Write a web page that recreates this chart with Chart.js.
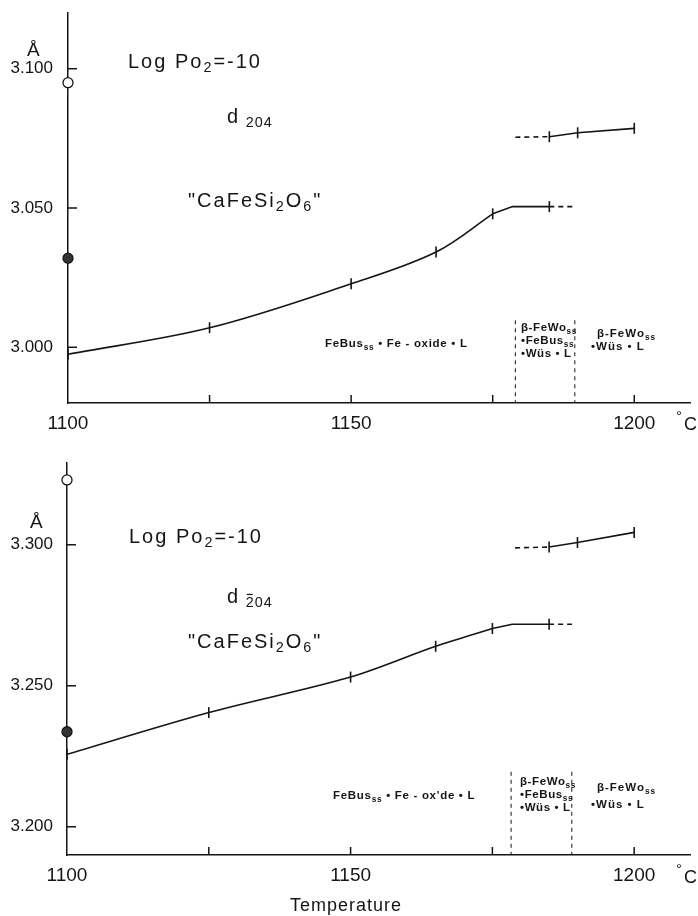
<!DOCTYPE html>
<html>
<head>
<meta charset="utf-8">
<script src="https://cdn.jsdelivr.net/npm/chart.js@4.4.1/dist/chart.umd.min.js"></script>
<style>
  body { margin: 0; background: #fff; width: 698px; height: 916px; position: relative; overflow: hidden; }
  canvas { position: absolute; left: 0; }
</style>
</head>
<body>
<canvas id="top" width="698" height="440" style="top:0"></canvas>
<canvas id="bottom" width="698" height="476" style="top:440px"></canvas>
<script>
// temperatures (°C)
const xTicks = [1100, 1125, 1150, 1175, 1200];
const xTickLabels = [1100, 1150, 1200];
const tCurve = [1100, 1125, 1150, 1165, 1175];
const tFlat = [1175, 1178.5, 1185];
const tFlatDash = [1185, 1189.5];
const tHighDash = [1179, 1185];
const tHigh = [1185, 1190, 1200];

// d204 spacing (Å)
const d204Ticks = [3.000, 3.050, 3.100];
const d204Curve = [2.9975, 3.0070, 3.0228, 3.0342, 3.0479];
const d204Flat = [3.0479, 3.0505, 3.0505];
const d204FlatDash = [3.0505, 3.0505];
const d204HighDash = [3.0754, 3.0756];
const d204High = [3.0756, 3.0770, 3.0786];
const d204Open = 3.095;
const d204Filled = 3.032;
const d204Bounds = [1179, 1189.5];
const d204BoundTop = 3.0097;

// d-204 spacing (Å)
const dm204Ticks = [3.200, 3.250, 3.300];
const dm204Curve = [3.2257, 3.2405, 3.2531, 3.2640, 3.2703];
const dm204Flat = [3.2703, 3.2718, 3.2718];
const dm204FlatDash = [3.2718, 3.2718];
const dm204HighDash = [3.2989, 3.2992];
const dm204High = [3.2992, 3.3008, 3.3044];
const dm204Open = 3.323;
const dm204Filled = 3.2337;
const dm204Bounds = [1178.3, 1189];
const dm204BoundTop = 3.2195;

const FONT = '"Liberation Sans", Arial, sans-serif';
const INK = '#151515';

const pts = (xs, ys) => xs.map((x, i) => ({ x, y: ys[i] }));

function line(data, extra) {
  return Object.assign({
    data, borderColor: INK, borderWidth: 1.6, fill: false, tension: 0,
    pointStyle: 'line', rotation: 90, pointRadius: 0, pointBorderColor: INK,
    pointBorderWidth: 1.6
  }, extra);
}

function datasets(s) {
  const out = [
    line(pts(tCurve, s.curve), { tension: s.tension, pointRadius: 5.5 }),
    line(pts(tFlat, s.flat), { pointRadius: [0, 0, 5.5] }),
    line(pts(tFlatDash, s.flatDash), { borderDash: [5, 4] }),
    line(pts(tHighDash, s.highDash), { borderDash: [5, 4] }),
    line(pts(tHigh, s.high), { pointRadius: 5.5 }),
    line([{ x: 1100, y: s.open }], { pointStyle: 'circle', pointRadius: 5, pointBackgroundColor: '#fff', pointBorderWidth: 1.3, clip: false }),
    line([{ x: 1100, y: s.filled }], { pointStyle: 'circle', pointRadius: 5, pointBackgroundColor: '#333', pointBorderWidth: 1.3, clip: false })
  ];
  s.bounds.forEach(b => {
    out.push(line(pts([b, b], [s.boundTop, s.yMin]), { borderWidth: 1, borderDash: [4, 4] }));
  });
  return out;
}

// text with sub/bar pieces, left aligned on a baseline
function rich(ctx, x, y, parts, size, spacing) {
  if ('letterSpacing' in ctx) ctx.letterSpacing = spacing + 'px';
  let cx = x;
  parts.forEach(p => {
    const sub = p.sub;
    const fs = sub ? size * 0.72 : size;
    ctx.font = (p.bold ? '600 ' : '') + fs + 'px ' + FONT;
    const dy = sub ? size * 0.22 : 0;
    ctx.fillText(p.t, cx, y + dy);
    const w = ctx.measureText(p.t).width;
    if (p.bar) {
      ctx.beginPath();
      ctx.lineWidth = 1.2;
      ctx.moveTo(cx + 1, y + dy - fs * 0.9);
      ctx.lineTo(cx + w - spacing - 1, y + dy - fs * 0.9);
      ctx.stroke();
    }
    cx += w;
  });
  if ('letterSpacing' in ctx) ctx.letterSpacing = '0px';
}

const decor = {
  id: 'decor',
  afterDraw(chart) {
    const { ctx, scales: { x, y } } = chart;
    const s = chart.options.plugins.decor;
    ctx.save();
    ctx.strokeStyle = INK;
    ctx.fillStyle = INK;
    ctx.lineWidth = 1.5;
    // inward tick marks
    xTicks.slice(1).forEach(v => {
      const px = x.getPixelForValue(v);
      ctx.beginPath(); ctx.moveTo(px, y.bottom); ctx.lineTo(px, y.bottom - 8); ctx.stroke();
    });
    s.yTicks.forEach(v => {
      const py = y.getPixelForValue(v);
      ctx.beginPath(); ctx.moveTo(x.left, py); ctx.lineTo(x.left + 9, py); ctx.stroke();
    });
    ctx.textBaseline = 'alphabetic';
    ctx.textAlign = 'left';
    // unit labels
    rich(ctx, s.angstrom[0], s.angstrom[1], [{ t: 'Å' }], 19, 0);
    const cy = s.degC;
    rich(ctx, 676, cy - 9, [{ t: '°' }], 15, 0);
    rich(ctx, 684, cy, [{ t: 'C' }], 18, 0);
    s.texts.forEach(t => rich(ctx, t.x, t.y, t.parts, t.size, t.sp));
    ctx.restore();
  }
};

function makeChart(id, s) {
  return new Chart(document.getElementById(id), {
    type: 'line',
    data: { datasets: datasets(s) },
    plugins: [decor],
    options: {
      responsive: false,
      animation: false,
      devicePixelRatio: 1,
      layout: { padding: { top: s.top, right: 1, left: 0, bottom: 0 } },
      plugins: { legend: { display: false }, tooltip: { enabled: false }, decor: s },
      scales: {
        x: {
          type: 'linear', min: 1100, max: 1210,
          afterBuildTicks: sc => { sc.ticks = xTicks.map(v => ({ value: v })); },
          afterFit: sc => { sc.height = s.xAxisH; sc.paddingLeft = 0; sc.paddingRight = 0; },
          grid: { display: false, drawTicks: false },
          border: { display: true, color: INK, width: 1.5 },
          ticks: {
            autoSkip: false, maxRotation: 0, padding: 9, color: INK,
            font: { family: FONT, size: 19 },
            callback: v => xTickLabels.includes(v) ? String(v) : ''
          }
        },
        y: {
          type: 'linear', min: s.yMin, max: s.yMax,
          afterBuildTicks: sc => { sc.ticks = s.yTicks.map(v => ({ value: v })); },
          afterFit: sc => { sc.width = s.yAxisW; sc.paddingTop = 0; sc.paddingBottom = 0; },
          grid: { display: false, drawTicks: false },
          border: { display: true, color: INK, width: 1.5 },
          ticks: {
            padding: s.yPad, color: INK,
            font: { family: FONT, size: 17 },
            callback: v => v.toFixed(3)
          }
        }
      }
    }
  });
}

const phaseText = (base, dx, dy, ox) => [
  { x: base[0], y: base[1], size: 11.5, sp: 0.7, parts: [{ t: 'FeBus', bold: 1 }, { t: 'ss', sub: 1, bold: 1 }, { t: ' • Fe - ' + ox + ' • L', bold: 1 }] },
  { x: dx, y: dy, size: 11.5, sp: 0.6, parts: [{ t: 'β-FeWo', bold: 1 }, { t: 'ss', sub: 1, bold: 1 }] },
  { x: dx, y: dy + 13, size: 11.5, sp: 0.6, parts: [{ t: '•FeBus', bold: 1 }, { t: 'ss', sub: 1, bold: 1 }] },
  { x: dx, y: dy + 26, size: 11.5, sp: 0.6, parts: [{ t: '•Wüs • L', bold: 1 }] }
];

const topTexts = [
  { x: 128, y: 68, size: 20, sp: 2, parts: [{ t: 'Log Po' }, { t: '2', sub: 1 }, { t: '=-10' }] },
  { x: 227, y: 123, size: 20, sp: 1, parts: [{ t: 'd ' }, { t: '204', sub: 1 }] },
  { x: 188, y: 207, size: 20, sp: 2, parts: [{ t: '"CaFeSi' }, { t: '2', sub: 1 }, { t: 'O' }, { t: '6', sub: 1 }, { t: '"' }] },
  ...phaseText([325, 347], 521, 331, 'oxide'),
  { x: 597, y: 337, size: 11.5, sp: 1, parts: [{ t: 'β-FeWo', bold: 1 }, { t: 'ss', sub: 1, bold: 1 }] },
  { x: 591, y: 350, size: 11.5, sp: 1, parts: [{ t: '•Wüs • L', bold: 1 }] }
];

const B = 440;
const bottomTexts = [
  { x: 129, y: 543 - B, size: 20, sp: 2, parts: [{ t: 'Log Po' }, { t: '2', sub: 1 }, { t: '=-10' }] },
  { x: 227, y: 603 - B, size: 20, sp: 1, parts: [{ t: 'd ' }, { t: '2', sub: 1, bar: 1 }, { t: '04', sub: 1 }] },
  { x: 188, y: 648 - B, size: 20, sp: 2, parts: [{ t: '"CaFeSi' }, { t: '2', sub: 1 }, { t: 'O' }, { t: '6', sub: 1 }, { t: '"' }] },
  ...phaseText([333, 799 - B], 520, 785 - B, 'ox\'de'),
  { x: 597, y: 791 - B, size: 11.5, sp: 1, parts: [{ t: 'β-FeWo', bold: 1 }, { t: 'ss', sub: 1, bold: 1 }] },
  { x: 591, y: 808 - B, size: 11.5, sp: 1, parts: [{ t: '•Wüs • L', bold: 1 }] },
  { x: 290, y: 911 - B, size: 18, sp: 1, parts: [{ t: 'Temperature' }] }
];

makeChart('top', {
  top: 13, xAxisH: 37, yAxisW: 68, yPad: 15, tension: 0.35,
  yMin: 2.98, yMax: 3.12, yTicks: d204Ticks,
  curve: d204Curve, flat: d204Flat, flatDash: d204FlatDash,
  highDash: d204HighDash, high: d204High,
  open: d204Open, filled: d204Filled,
  bounds: d204Bounds, boundTop: d204BoundTop,
  angstrom: [27, 56], degC: 430, texts: topTexts
});

makeChart('bottom', {
  top: 23, xAxisH: 61, yAxisW: 67, yPad: 14, tension: 0.3,
  yMin: 3.19, yMax: 3.329, yTicks: dm204Ticks,
  curve: dm204Curve, flat: dm204Flat, flatDash: dm204FlatDash,
  highDash: dm204HighDash, high: dm204High,
  open: dm204Open, filled: dm204Filled,
  bounds: dm204Bounds, boundTop: dm204BoundTop,
  angstrom: [30, 528 - B], degC: 883 - B, texts: bottomTexts
});
</script>
</body>
</html>
